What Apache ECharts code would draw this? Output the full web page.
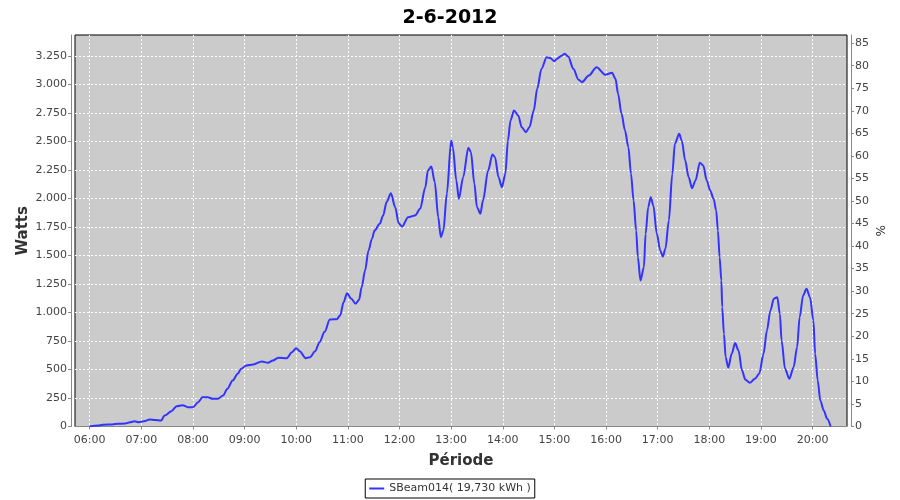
<!DOCTYPE html>
<html>
<head>
<meta charset="utf-8">
<script src="https://cdn.jsdelivr.net/npm/echarts@6/dist/echarts.min.js"></script>
<style>html,body{margin:0;padding:0;background:#fff}#c{width:900px;height:500px}</style>
</head>
<body>
<div id="c"></div>
<script>
const titleText = '2-6-2012';
const seriesName = 'SBeam014( 19,730 kWh )';
const xTickLabels = ['06:00','07:00','08:00','09:00','10:00','11:00','12:00','13:00','14:00','15:00','16:00','17:00','18:00','19:00','20:00'];
const wattTicks = [0,250,500,750,1000,1250,1500,1750,2000,2250,2500,2750,3000,3250];
const pctTicks = [0,5,10,15,20,25,30,35,40,45,50,55,60,65,70,75,80,85];
const times = ['06:00','06:10','06:15','06:26','06:33','06:41','06:47','06:52','06:57','07:03','07:10','07:16','07:23','07:27','07:35','07:41','07:48','07:54','08:00','08:06','08:11','08:17','08:23','08:29','08:35','08:40','08:46','08:52','08:56','09:02','09:10','09:20','09:27','09:33','09:39','09:49','09:55','10:00','10:04','10:11','10:16','10:22','10:27','10:33','10:39','10:47','10:51','10:55','10:59','11:04','11:09','11:13','11:16','11:20','11:24','11:28','11:31','11:37','11:41','11:45','11:50','11:55','11:59','12:03','12:10','12:18','12:24','12:30','12:33','12:37','12:41','12:45','12:48','12:51','12:55','13:00','13:02','13:06','13:09','13:14','13:20','13:23','13:27','13:30','13:34','13:37','13:43','13:48','13:51','13:55','13:59','14:03','14:06','14:09','14:13','14:18','14:22','14:27','14:31','14:36','14:40','14:45','14:51','14:55','15:00','15:03','15:09','15:12','15:16','15:22','15:28','15:32','15:40','15:49','15:59','16:07','16:11','16:14','16:18','16:22','16:26','16:29','16:32','16:35','16:37','16:40','16:44','16:46','16:49','16:52','16:55','16:59','17:03','17:06','17:09','17:13','17:17','17:20','17:25','17:28','17:32','17:36','17:40','17:44','17:49','17:53','17:57','18:01','18:05','18:08','18:10','18:12','18:14','18:15','18:17','18:19','18:22','18:26','18:30','18:34','18:38','18:42','18:47','18:53','18:58','19:03','19:07','19:11','19:15','19:19','19:22','19:24','19:28','19:33','19:38','19:42','19:45','19:49','19:53','19:57','20:01','20:03','20:06','20:09','20:13','20:17','20:21'];
const watts = [0,8,15,18,24,26,38,46,38,46,61,58,53,96,134,178,187,169,169,213,257,257,243,243,272,330,403,462,506,535,544,570,558,579,602,599,651,687,660,599,608,660,739,830,938,941,973,1090,1169,1120,1076,1111,1221,1368,1543,1646,1718,1777,1850,1967,2045,1923,1782,1753,1835,1850,1908,2098,2244,2279,2142,1835,1660,1718,2040,2507,2449,2157,1996,2186,2443,2405,2128,1923,1865,1981,2244,2385,2361,2186,2098,2215,2507,2683,2770,2727,2624,2580,2624,2770,2961,3136,3238,3230,3203,3224,3253,3268,3244,3136,3040,3019,3077,3150,3083,3101,3048,2917,2741,2595,2449,2215,1981,1718,1484,1280,1397,1689,1923,2010,1937,1689,1543,1490,1558,1806,2215,2478,2566,2507,2332,2186,2089,2157,2312,2288,2157,2069,1996,1894,1718,1484,1280,1046,813,608,515,637,731,666,491,409,383,418,462,637,842,1017,1120,1134,988,754,506,418,520,695,958,1148,1207,1134,929,637,403,228,140,67,0];

function toH(s){const p=s.split(':');return +p[0]+(+p[1])/60;}
const data = times.map((t,i)=>[toH(t), watts[i]]);
const xTickVals = xTickLabels.map(toH);
function fmtW(v){return String(v).replace(/\B(?=(\d{3})+(?!\d))/g,'.');}
function fmtH(v){const h=Math.floor(v+1e-6);const m=Math.round((v-h)*60);return (h<10?'0':'')+h+':'+(m<10?'0':'')+m;}

const FONT = 'DejaVu Sans';
const chart = echarts.init(document.getElementById('c'), null, {renderer:'canvas'});
chart.setOption({
  animation:false,
  backgroundColor:'#ffffff',
  title:{text:titleText,left:'center',top:4,textStyle:{fontFamily:FONT,fontSize:19,fontWeight:'bold',color:'#000'}},
  grid:{left:75,right:53,top:35,bottom:73.5,show:true,backgroundColor:'#cbcbcb',borderColor:'#000',borderWidth:1},
  legend:{data:[seriesName],bottom:2,left:'center',icon:'rect',itemWidth:15,itemHeight:2,borderColor:'#000',borderWidth:1,padding:[4,4],borderRadius:0,
    textStyle:{fontFamily:FONT,fontSize:11,color:'#333'}},
  xAxis:{type:'value',min:5.715,max:20.667,offset:4,name:'Période',nameLocation:'middle',nameGap:23,nameMoveOverlap:false,
    nameTextStyle:{fontFamily:FONT,fontSize:15,fontWeight:'bold',color:'#333'},
    axisLine:{show:true,lineStyle:{color:'#888',width:1}},
    axisTick:{show:true,length:3,customValues:xTickVals,lineStyle:{color:'#888'}},
    axisLabel:{customValues:xTickVals,formatter:fmtH,fontFamily:FONT,fontSize:11,color:'#444',margin:4},
    splitLine:{show:true,lineStyle:{color:'#fff',type:[2,2],width:1}}},
  yAxis:[
    {type:'value',min:0,max:3432,offset:4,position:'left',name:'Watts',nameLocation:'middle',nameGap:40,nameRotate:90,nameMoveOverlap:false,
      nameTextStyle:{fontFamily:FONT,fontSize:15,fontWeight:'bold',color:'#333'},
      axisLine:{show:true,lineStyle:{color:'#888'}},
      axisTick:{show:true,length:3,customValues:wattTicks,lineStyle:{color:'#888'}},
      axisLabel:{customValues:wattTicks,formatter:fmtW,fontFamily:FONT,fontSize:11,color:'#444',margin:4},
      splitLine:{show:true,lineStyle:{color:'#fff',type:[2,2],width:1}}},
    {type:'value',min:0,max:86.8,offset:4,position:'right',name:'%',nameLocation:'middle',nameGap:22,nameRotate:-90,nameMoveOverlap:false,
      nameTextStyle:{fontFamily:FONT,fontSize:12,color:'#333'},
      axisLine:{show:true,lineStyle:{color:'#888'}},
      axisTick:{show:true,length:3,customValues:pctTicks,lineStyle:{color:'#888'}},
      axisLabel:{customValues:pctTicks,fontFamily:FONT,fontSize:11,color:'#444',margin:4},
      splitLine:{show:false}}
  ],
  series:[{name:seriesName,type:'line',data:data,yAxisIndex:0,symbol:'none',smooth:0.3,smoothMonotone:'x',
    lineStyle:{color:'#3333ff',width:2},itemStyle:{color:'#3333ff'}}]
});
</script>
</body>
</html>
